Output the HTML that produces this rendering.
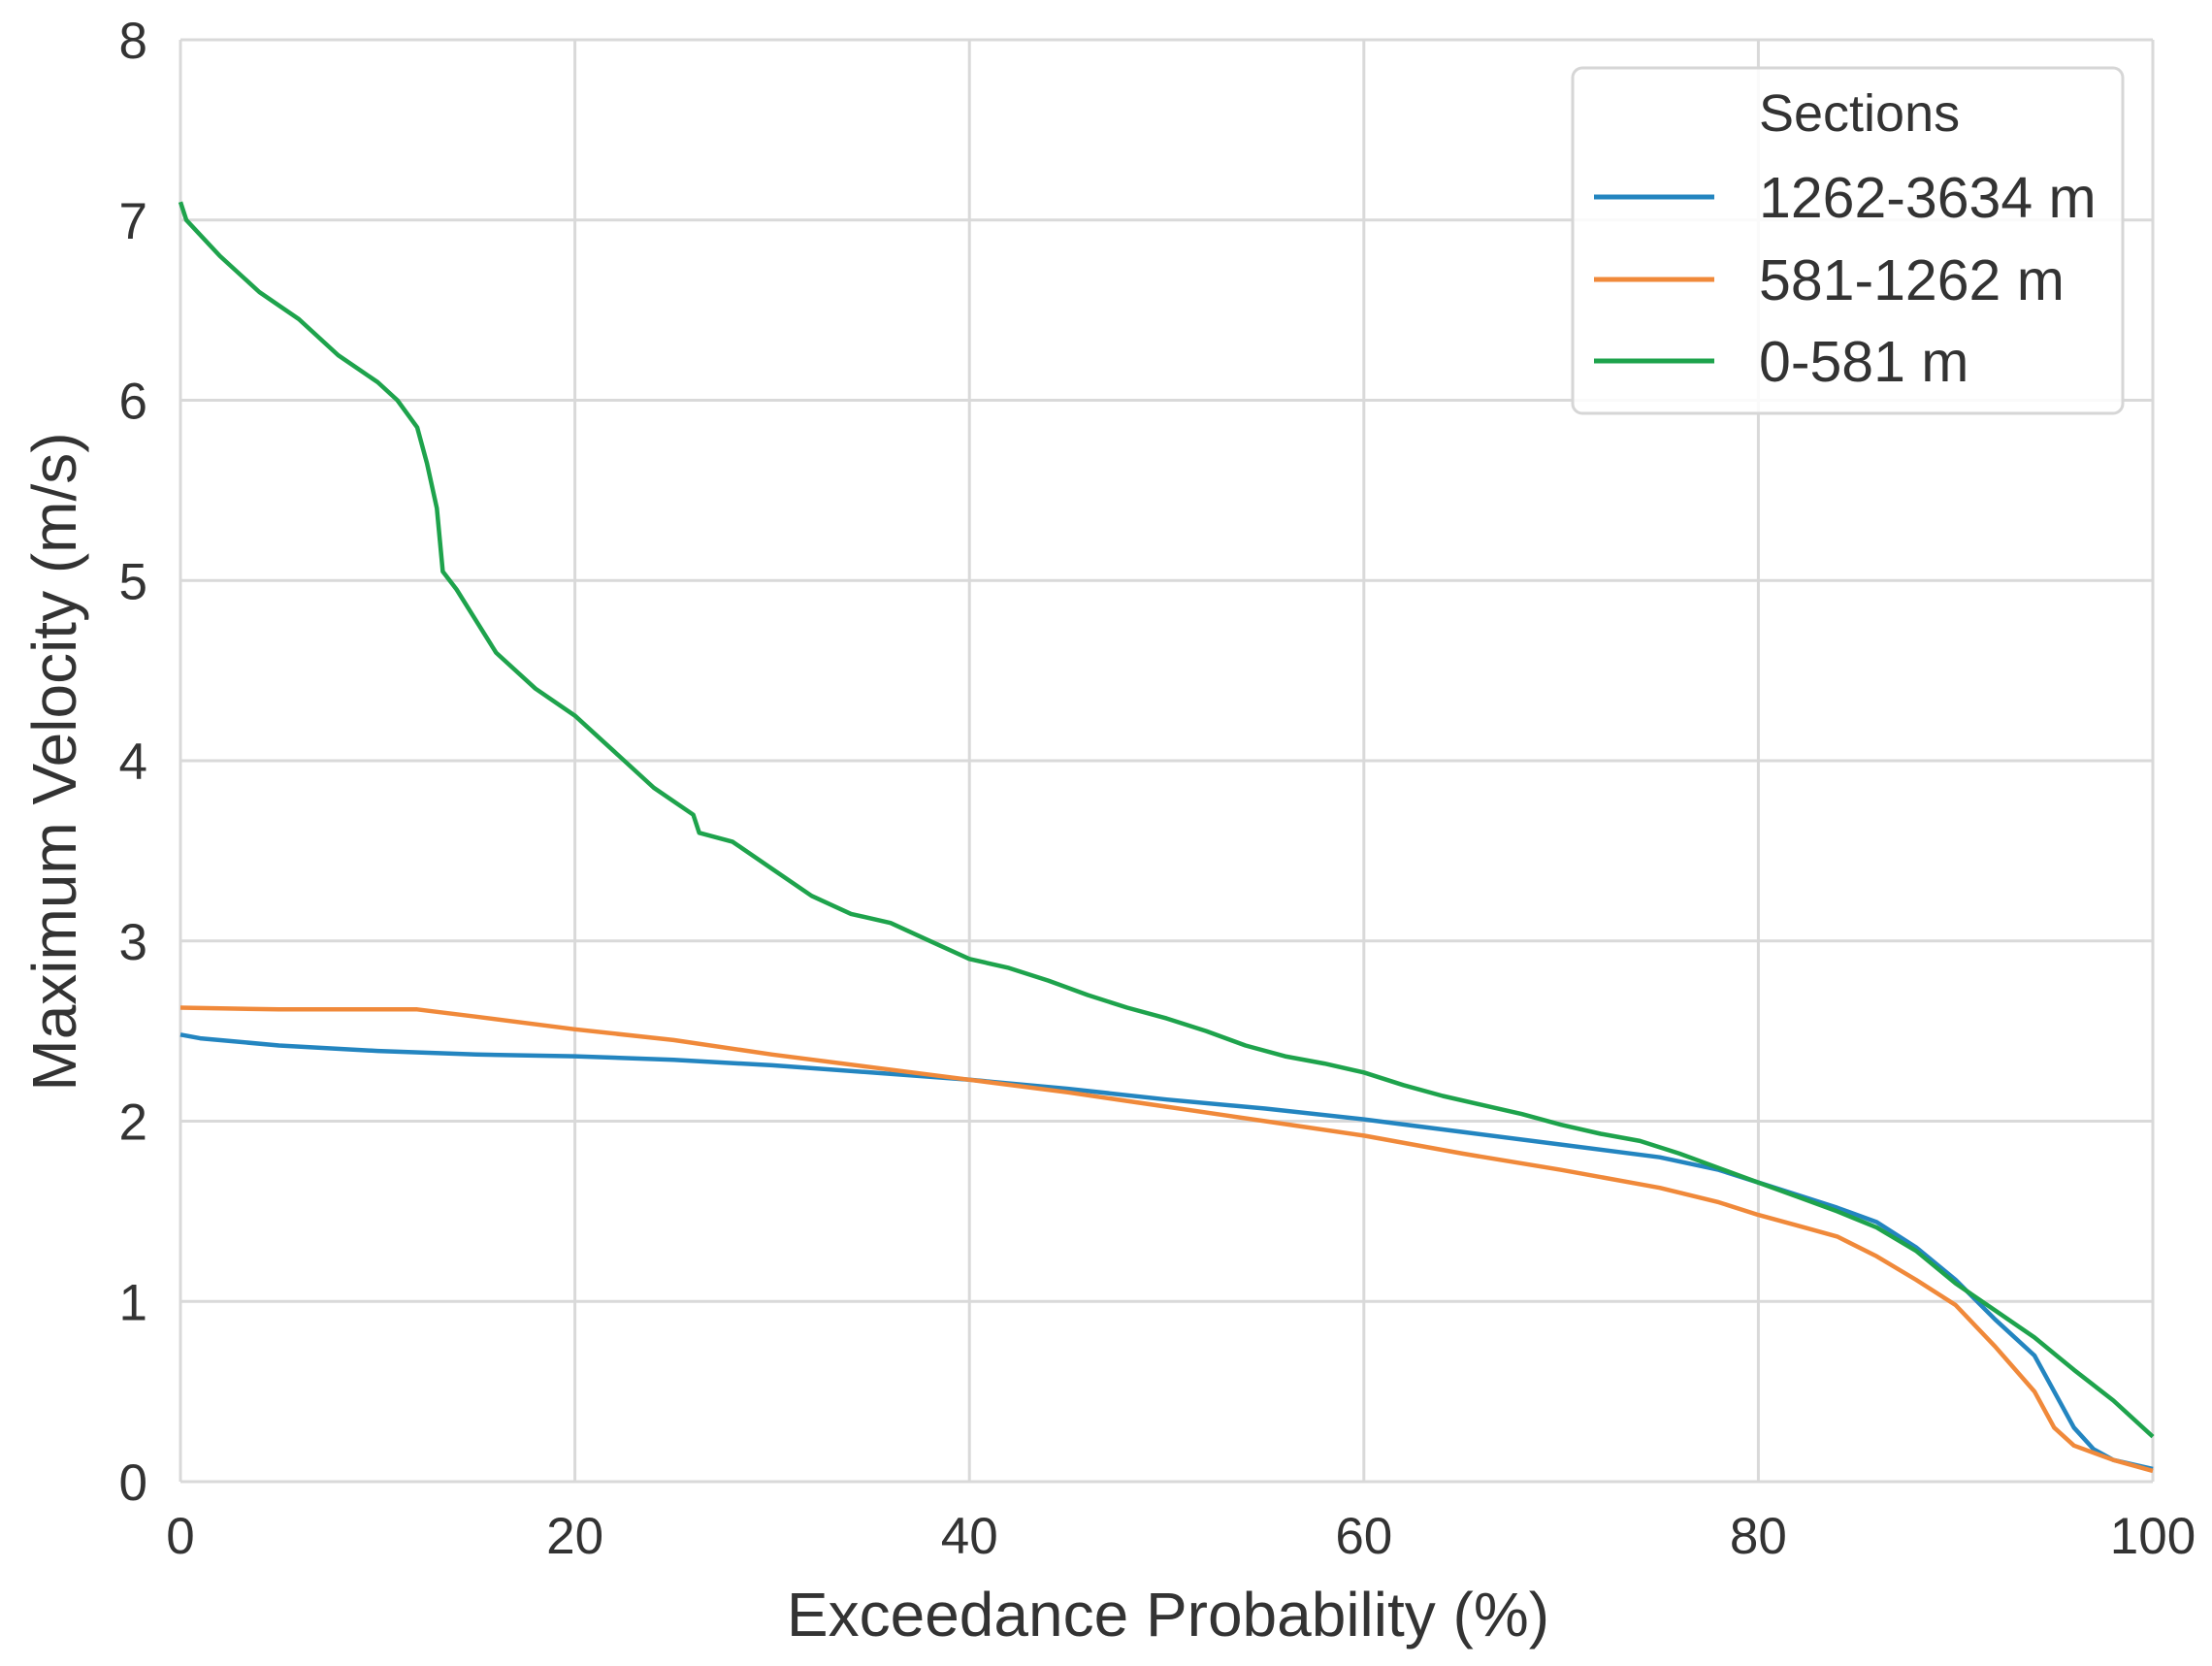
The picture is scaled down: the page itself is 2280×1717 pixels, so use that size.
<!DOCTYPE html>
<html><head><meta charset="utf-8"><style>
html,body{margin:0;padding:0;background:#fff}
svg{display:block;font-family:"Liberation Sans",sans-serif}
</style></head><body>
<svg id="chart" width="2280" height="1717" viewBox="0 0 2280 1717">
<g id="grid"></g>
<g id="ticks"></g>
<g id="series"></g>
<text x="1204" y="1686" text-anchor="middle" font-size="64" fill="#333">Exceedance Probability (%)</text>
<text transform="translate(78,785) rotate(-90)" text-anchor="middle" font-size="64" fill="#333">Maximum Velocity (m/s)</text>
<g>
<rect x="1621" y="70" width="567" height="356" rx="10" fill="#fff" fill-opacity="0.85" stroke="#d6d6d6" stroke-width="3"/>
<text x="1813" y="135" font-size="54" fill="#333">Sections</text>
<line x1="1643" y1="203" x2="1767" y2="203" stroke="#2385c0" stroke-width="5"/>
<text x="1813" y="224" font-size="59" fill="#333">1262-3634 m</text>
<line x1="1643" y1="288" x2="1767" y2="288" stroke="#f0893a" stroke-width="5"/>
<text x="1813" y="309" font-size="59" fill="#333">581-1262 m</text>
<line x1="1643" y1="372" x2="1767" y2="372" stroke="#1ea34c" stroke-width="5"/>
<text x="1813" y="393" font-size="59" fill="#333">0-581 m</text>
</g>
</svg>
<script>
const xTicks=[0,20,40,60,80,100];
const yTicks=[0,1,2,3,4,5,6,7,8];
const greenX=[0,0.3,2,4,6,8,10,11,12,12.5,13,13.3,14,16,18,20,22,24,26,26.3,28,30,32,34,36,38,40,42,44,46,48,50,52,54,56,58,60,62,64,66,68,70,72,74,76,78,80,82,84,86,88,90,92,94,96,98,100];
const greenY=[7.1,7.0,6.8,6.6,6.45,6.25,6.1,6.0,5.85,5.65,5.4,5.05,4.95,4.6,4.4,4.25,4.05,3.85,3.7,3.6,3.55,3.4,3.25,3.15,3.1,3.0,2.9,2.85,2.78,2.7,2.63,2.57,2.5,2.42,2.36,2.32,2.27,2.2,2.14,2.09,2.04,1.98,1.93,1.89,1.82,1.74,1.66,1.58,1.5,1.41,1.28,1.1,0.95,0.8,0.62,0.45,0.25];
const orangeX=[0,5,10,12,15,20,25,30,35,40,45,50,55,60,65,70,75,78,80,82,84,86,88,90,92,94,95,96,98,100];
const orangeY=[2.63,2.62,2.62,2.62,2.58,2.51,2.45,2.37,2.3,2.23,2.16,2.08,2.0,1.92,1.82,1.73,1.63,1.55,1.48,1.42,1.36,1.25,1.12,0.98,0.75,0.5,0.3,0.2,0.12,0.06];
const blueX=[0,1,5,10,15,20,25,30,35,40,45,50,55,60,65,70,75,78,80,82,84,86,88,90,92,94,95,96,97,98,100];
const blueY=[2.48,2.46,2.42,2.39,2.37,2.36,2.34,2.31,2.27,2.23,2.18,2.12,2.07,2.01,1.94,1.87,1.8,1.73,1.66,1.59,1.52,1.44,1.3,1.12,0.9,0.7,0.5,0.3,0.18,0.12,0.07];
const L=186,R=2219,T=41,B=1527;
const sx=v=>L+(v-0)/100*(R-L);
const sy=v=>B-(v-0)/8*(B-T);
const NS="http://www.w3.org/2000/svg";
const grid=document.getElementById('grid'),ticks=document.getElementById('ticks'),ser=document.getElementById('series');
function mk(tag,attrs){const e=document.createElementNS(NS,tag);for(const k in attrs)e.setAttribute(k,attrs[k]);return e;}
xTicks.forEach(t=>{
 const g=mk('line',{x1:sx(t),x2:sx(t),y1:T,y2:B,stroke:'#d9d9d9','stroke-width':3});
 
 
 grid.appendChild(g);
 const l=mk('text',{x:sx(t),y:B+74,'text-anchor':'middle','font-size':53,fill:'#333'});
 l.textContent=t;
 
 
 ticks.appendChild(l);
});
yTicks.forEach(t=>{
 const g=mk('line',{x1:L,x2:R,y1:sy(t),y2:sy(t),stroke:'#d9d9d9','stroke-width':3});
 
 
 grid.appendChild(g);
 const l=mk('text',{x:152,y:sy(t)+19,'text-anchor':'end','font-size':53,fill:'#333'});
 l.textContent=t;
 
 
 ticks.appendChild(l);
});
function line(xs,ys,color,name){
 const d=xs.map((x,i)=>(i?'L':'M')+sx(x).toFixed(1)+','+sy(ys[i]).toFixed(1)).join('');
 const p=mk('path',{d:d,fill:'none',stroke:color,'stroke-width':4.5,'stroke-linejoin':'round'});
 
 
 ser.appendChild(p);
}
line(blueX,blueY,'#2385c0','line-1262-3634');
line(orangeX,orangeY,'#f0893a','line-581-1262');
line(greenX,greenY,'#1ea34c','line-0-581');
</script>
</body></html>
